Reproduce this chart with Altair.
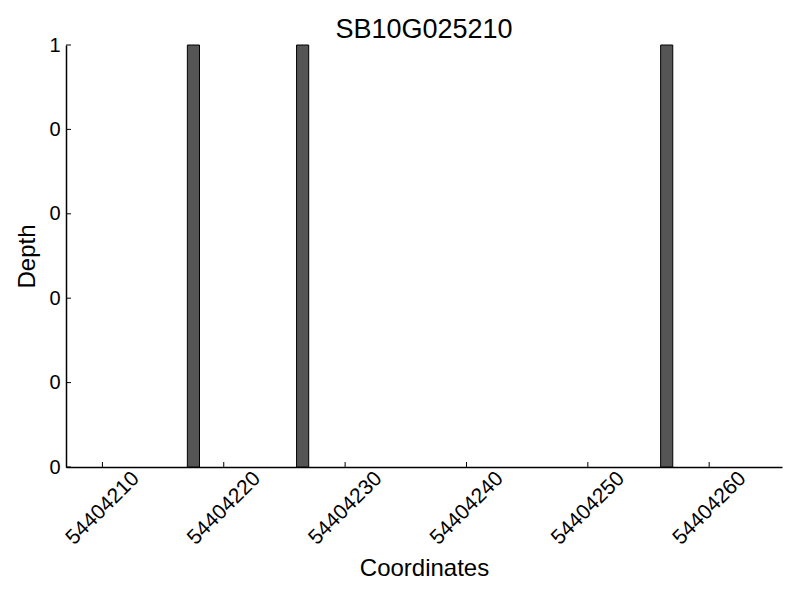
import altair as alt
import pandas as pd

# data
positions = [54404217, 54404226, 54404256]
depths = [1, 1, 1]
x_ticks = [54404210, 54404220, 54404230, 54404240, 54404250, 54404260]
y_ticks = [0, 0.2, 0.4, 0.6, 0.8, 1.0]
x_domain = [54404207, 54404266]
y_domain = [0, 1]
title_text = "SB10G025210"

FONT = "Liberation Sans"
W, H = 716, 422

bars_df = pd.DataFrame({"pos": positions, "depth": depths})
bars_df["end"] = bars_df["pos"] + 1
bars_df["base"] = 0
xt_df = pd.DataFrame({"t": x_ticks})
yt_df = pd.DataFrame({"t": y_ticks})

x_scale = alt.Scale(domain=x_domain, nice=False, zero=False)
y_scale = alt.Scale(domain=y_domain, nice=False)

bars = alt.Chart(bars_df).mark_rect(
    fill="#555555", stroke="black", strokeWidth=1
).encode(
    x=alt.X("pos:Q", scale=x_scale, axis=alt.Axis(
        values=x_ticks, format="d", title="Coordinates",
        labelAngle=315, labelAlign="center", labelBaseline="middle",
        labelPadding=41, labelFontSize=21, labelFont=FONT, labelColor="black",
        ticks=False, tickSize=0, domainColor="black", domainWidth=1.5,
        grid=False, titleFont=FONT, titleFontSize=24, titleFontWeight="normal",
        titleColor="black", titleY=108, titleBaseline="alphabetic",
        labelOverlap=False, labelBound=False, labelFlush=False,
    )),
    x2="end:Q",
    y=alt.Y("depth:Q", scale=y_scale, axis=alt.Axis(
        values=y_ticks, labelExpr="'' + floor(datum.value)", title="Depth",
        labelFontSize=20, labelFont=FONT, labelColor="black", labelPadding=6,
        ticks=False, tickSize=0, domainColor="black", domainWidth=1.5,
        grid=False, titleFont=FONT, titleFontSize=24, titleFontWeight="normal",
        titleColor="black", titleX=-39, titleY=H / 2, titleAngle=270,
        titleAlign="center", titleBaseline="middle", labelOverlap=False,
        labelFlush=False,
    )),
    y2="base:Q",
)

xticks = alt.Chart(xt_df).mark_rule(color="black", strokeWidth=1).encode(
    x=alt.X("t:Q", scale=x_scale),
    y=alt.value(H),
    y2=alt.value(H - 5),
)

yticks = alt.Chart(yt_df).mark_rule(color="black", strokeWidth=1).encode(
    y=alt.Y("t:Q", scale=y_scale),
    x=alt.value(0),
    x2=alt.value(5),
)

chart = alt.layer(bars, xticks, yticks).properties(
    width=W, height=H,
    title=alt.TitleParams(title_text, font=FONT, fontSize=27, fontWeight="normal",
                          color="black", anchor="middle", offset=4, dy=13),
    autosize=alt.AutoSizeParams(type="none"),
    padding={"left": 58, "top": 37, "right": 10, "bottom": 125},
    background="white",
).configure_view(strokeWidth=0, stroke="transparent")

chart.save("out.html", embed_options={"renderer": "svg", "actions": False})
